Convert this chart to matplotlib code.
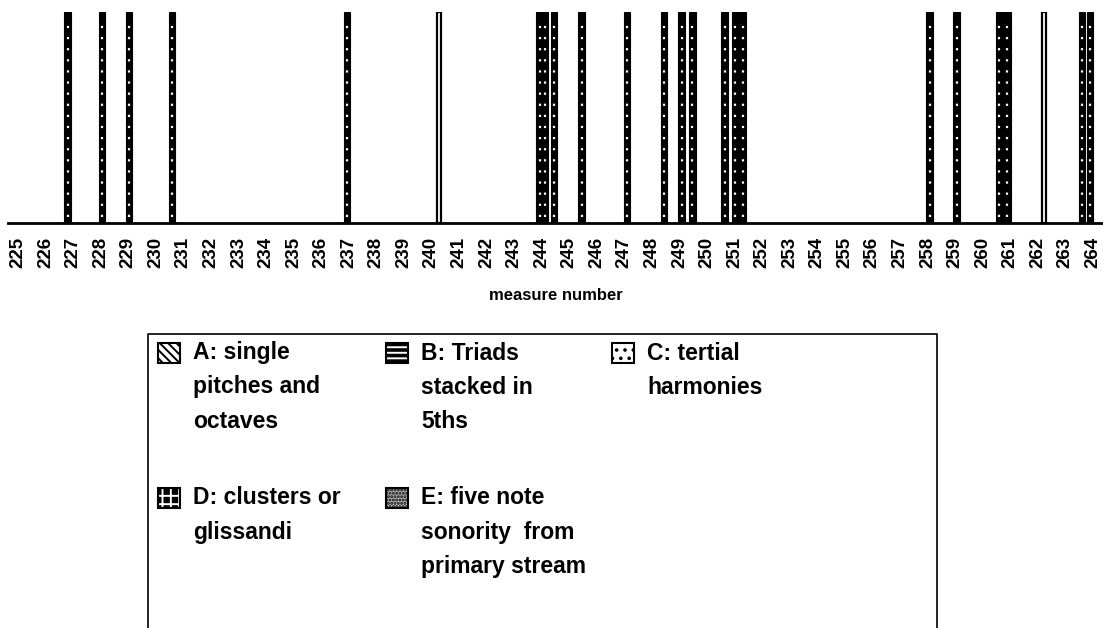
import matplotlib
matplotlib.use('Agg')
import matplotlib.pyplot as plt
from matplotlib.patches import Rectangle

plt.rcParams['font.family'] = ['Liberation Sans', 'DejaVu Sans']
plt.rcParams['hatch.linewidth'] = 1.4

# Data: positions (measure number) of each sonority, by type
measures_a = [226.81, 228.05, 229.03, 230.59, 236.94, 243.94, 244.12, 244.45,
              245.46, 247.10, 248.44, 249.09, 249.46, 250.65, 251.02, 251.31,
              258.09, 259.07, 260.60, 260.89, 263.61, 263.90]
measures_c = [240.28, 262.23]
tick_measures = list(range(225, 265))

legend_labels = [
    ['A: single', 'pitches and', 'octaves'],
    ['B: Triads', 'stacked in', '5ths'],
    ['C: tertial', 'harmonies'],
    ['D: clusters or', 'glissandi'],
    ['E: five note', 'sonority  from', 'primary stream'],
]
legend_hatches = ['\\\\\\\\', '---', '..', '++', '.....']
legend_faces = ['white', 'black', 'white', 'black', '#b0b0b0']
legend_hcolors = ['black', 'white', 'black', 'white', 'black']

W, H = 1103, 628
fig = plt.figure(figsize=(W / 100, H / 100), dpi=100)


def fx(x):
    return x / W


def fy(y):
    return 1 - y / H


# Axes placed so the baseline sits at y=223 px and bar tops at y=12 px
ax = fig.add_axes([fx(8), fy(223), fx(1103) - fx(8), fy(12) - fy(223)])

# Dark bars: black with a column of small white dots
ax.bar(measures_a, [1] * len(measures_a), width=0.25, color='black',
       edgecolor='black', linewidth=0.8, align='center')
ax.vlines(measures_a, 0.03, 0.97, colors='white', linewidth=1.6,
          linestyles=(0, (1, 4)))
# Light bars: white with black outline
ax.bar(measures_c, [1] * len(measures_c), width=0.17, color='white',
       edgecolor='black', linewidth=1.6, align='center')

ax.set_xlim(224.64, 264.37)
ax.set_ylim(0, 1)
ax.set_yticks([])
for s in ['top', 'left', 'right']:
    ax.spines[s].set_visible(False)
ax.spines['bottom'].set_linewidth(2)
ax.set_xticks(tick_measures)
ax.set_xticklabels([str(m) for m in tick_measures], rotation=90,
                   fontsize=13.5, fontweight='bold')
ax.tick_params(axis='x', length=0, pad=10)
ax.set_xlabel('measure number', fontsize=12, fontweight='bold', labelpad=14)

# Legend box (open at the bottom)
fig.add_artist(plt.Line2D([fx(148), fx(148), fx(937), fx(937)],
                          [fy(640), fy(334), fy(334), fy(640)],
                          color='black', linewidth=1.2))

col_x = [158, 386, 612, 158, 386]
row_y = [343, 343, 343, 488, 488]
for labels, hatch, face, hcol, x0, y0 in zip(legend_labels, legend_hatches,
                                             legend_faces, legend_hcolors,
                                             col_x, row_y):
    fig.add_artist(Rectangle((fx(x0), fy(y0 + 20)), fx(22), 20 / H,
                             transform=fig.transFigure, facecolor=face,
                             edgecolor=hcol, hatch=hatch, linewidth=0))
    fig.add_artist(Rectangle((fx(x0), fy(y0 + 20)), fx(22), 20 / H,
                             transform=fig.transFigure, facecolor='none',
                             edgecolor='black', linewidth=1.5))
    for i, line in enumerate(labels):
        fig.text(fx(x0 + 35), fy(y0 + 10 + 34 * i), line, fontsize=16.5,
                 fontweight='bold', va='center', ha='left')

fig.savefig('out.png', dpi=100)
